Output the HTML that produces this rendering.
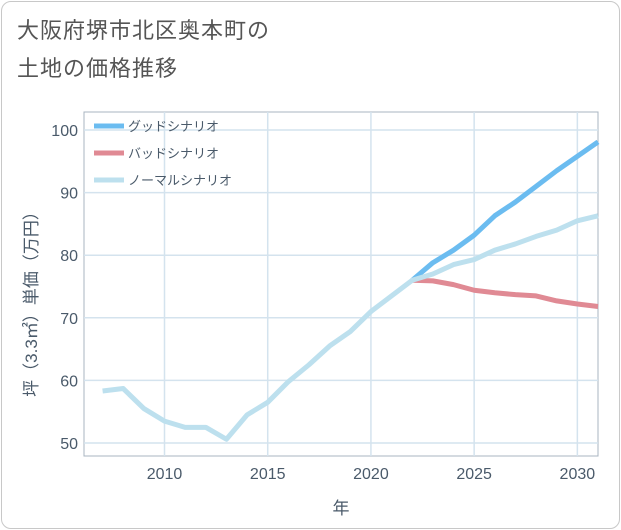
<!DOCTYPE html>
<html><head><meta charset="utf-8"><style>
body{margin:0;background:#fff;font-family:"Liberation Sans","Noto Sans CJK JP",sans-serif;}
#card{position:absolute;left:1px;top:1px;width:617px;height:526px;border:1px solid #c8c8c8;border-radius:10px;background:#fff;}
#title{position:absolute;left:17px;top:12px;font-size:22px;line-height:38px;color:#555;letter-spacing:1px;}
</style></head><body>
<div id="card"></div>
<div id="title">大阪府堺市北区奥本町の<br>土地の価格推移</div>
<svg id="chart" width="621" height="530" style="position:absolute;left:0;top:0"></svg>
<script>
const years=[2007,2008,2009,2010,2011,2012,2013,2014,2015,2016,2017,2018,2019,2020,2021,2022,2023,2024,2025,2026,2027,2028,2029,2030,2031];
const normal=[58.3,58.7,55.5,53.5,52.5,52.5,50.6,54.5,56.5,59.8,62.5,65.5,67.8,71,73.5,76,77,78.5,79.3,80.8,81.8,83,84,85.5,86.3];
const goodYears=[2022,2023,2024,2025,2026,2027,2028,2029,2030,2031];
const good=[76,78.8,80.8,83.2,86.3,88.5,91,93.5,95.8,98.1];
const bad=[76,75.9,75.3,74.4,74,73.7,73.5,72.7,72.2,71.8];
const xTicks=[2010,2015,2020,2025,2030];
const yTicks=[50,60,70,80,90,100];
const L=84,R=598,T=112,B=456;
const x=v=>L+(v-2006.1)*(R-L)/(2031-2006.1);
const y=v=>443-(v-50)*6.26;
const svg=document.getElementById('chart');
const NS='http://www.w3.org/2000/svg';
function mk(t,a){const e=document.createElementNS(NS,t);for(const k in a)e.setAttribute(k,a[k]);svg.appendChild(e);return e;}
const bg=mk('rect',{x:L,y:T,width:R-L,height:B-T,fill:'#fff',stroke:'#a8b4c0','stroke-width':1});


xTicks.forEach(t=>{
 const g=mk('line',{x1:x(t),x2:x(t),y1:T,y2:B,stroke:'#d4e3ee','stroke-width':1.5});
 
 
 const tx=mk('text',{x:x(t),y:479,'text-anchor':'middle','font-size':16,fill:'#4a5a6a'});
 tx.textContent=t;
 
 
});
yTicks.forEach(t=>{
 const g=mk('line',{x1:L,x2:R,y1:y(t),y2:y(t),stroke:'#d4e3ee','stroke-width':1.5});
 
 
 const tx=mk('text',{x:78,y:y(t)+6,'text-anchor':'end','font-size':16,fill:'#4a5a6a'});
 tx.textContent=t;
 
 
});
function line(xs,vs,color,name){
 const p=mk('polyline',{points:xs.map((v,i)=>x(v)+','+y(vs[i])).join(' '),fill:'none',stroke:color,'stroke-width':5,'stroke-linejoin':'round'});
 
 
}
line(goodYears,good,'#6bbcf0','good-scenario-line');
line(goodYears,bad,'#e08a94','bad-scenario-line');
line(years,normal,'#bde0ee','normal-scenario-line');
const leg=[['グッドシナリオ','#6bbcf0'],['バッドシナリオ','#e08a94'],['ノーマルシナリオ','#bde0ee']];
leg.forEach((l,i)=>{
 const yy=126+i*27;
 const s=mk('line',{x1:94,x2:124,y1:yy,y2:yy,stroke:l[1],'stroke-width':5});
 
 
 const t=mk('text',{x:128,y:yy+5,'font-size':13,fill:'#4a5a6a'});
 t.textContent=l[0];
 
 
});
const xt=mk('text',{x:341,y:514,'text-anchor':'middle','font-size':17,fill:'#4a5a6a'});
xt.textContent='年';


const yt=mk('text',{x:0,y:0,'text-anchor':'middle','font-size':17,fill:'#4a5a6a',transform:'translate(37,300) rotate(-90)'});
yt.textContent='坪（3.3㎡）単価（万円）';


</script>
</body></html>
